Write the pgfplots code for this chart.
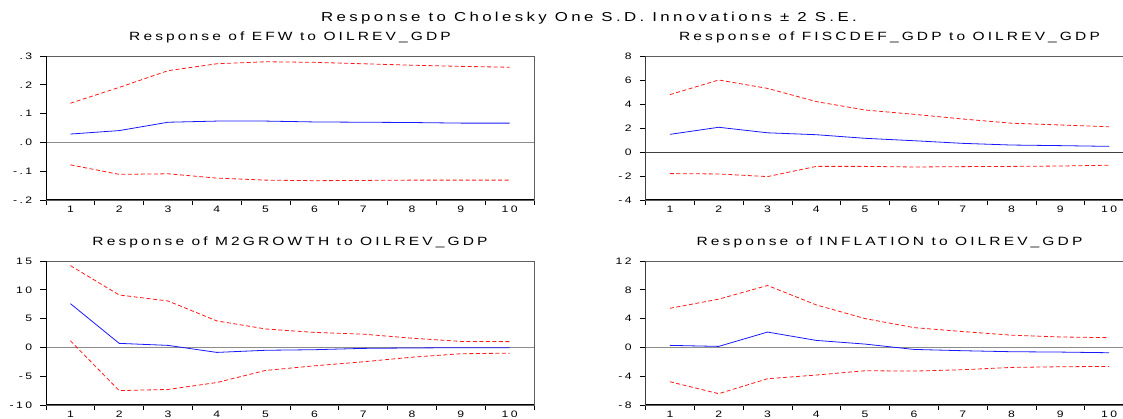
\documentclass[border=0pt]{standalone}
\usepackage{fontspec}
\setmainfont{Liberation Sans}
\newfontfamily\ev[LetterSpace=20]{Liberation Sans}
\usepackage{pgfplots}
\usepackage{pgfplotstable}
\pgfplotsset{compat=1.18}
\definecolor{irfred}{RGB}{255,25,25}
\definecolor{irfblue}{RGB}{25,25,255}
\definecolor{framegray}{RGB}{95,95,95}
\definecolor{zerogray}{RGB}{140,140,140}

% step  lower  resp  upper
\pgfplotstableread{
s lo mid hi
1 -0.078 0.029 0.136
2 -0.111 0.041 0.191
3 -0.109 0.070 0.249
4 -0.124 0.074 0.273
5 -0.131 0.074 0.280
6 -0.133 0.071 0.278
7 -0.132 0.070 0.273
8 -0.131 0.069 0.268
9 -0.131 0.067 0.264
10 -0.131 0.067 0.261
}\efw
\pgfplotstableread{
s lo mid hi
1 -1.80 1.47 4.78
2 -1.83 2.06 6.00
3 -2.05 1.60 5.30
4 -1.20 1.44 4.20
5 -1.20 1.14 3.50
6 -1.25 0.94 3.14
7 -1.22 0.72 2.75
8 -1.20 0.58 2.40
9 -1.17 0.53 2.25
10 -1.10 0.47 2.10
}\fisc
\pgfplotstableread{
s lo mid hi
1 1.15 7.60 14.20
2 -7.50 0.70 9.10
3 -7.30 0.35 8.06
4 -6.10 -0.87 4.60
5 -4.00 -0.50 3.20
6 -3.20 -0.40 2.60
7 -2.50 -0.17 2.30
8 -1.70 -0.10 1.60
9 -1.10 -0.05 1.04
10 -1.00 -0.05 1.00
}\mtwo
\pgfplotstableread{
s lo mid hi
1 -4.77 0.28 5.43
2 -6.43 0.14 6.70
3 -4.35 2.13 8.60
4 -3.84 0.97 5.90
5 -3.24 0.46 4.00
6 -3.29 -0.28 2.75
7 -3.10 -0.46 2.20
8 -2.78 -0.60 1.70
9 -2.69 -0.65 1.45
10 -2.64 -0.74 1.35
}\infl

\pgfplotsset{
  irf/.style={
    scale only axis, width=488bp, height=144bp,
    anchor=south west,
    xmin=0.5, xmax=10.5,
    xtick={1,2,3,4,5,6,7,8,9,10},
    minor xtick={0.5,1.5,2.5,3.5,4.5,5.5,6.5,7.5,8.5,9.5,10.5},
    every major x tick/.style={draw=none},
    tick align=outside,
    major tick length=6bp, minor tick length=5bp,
    xtick pos=bottom, ytick pos=left,
    tick style={black, line width=0.7bp},
    axis line style={framegray, line width=0.9bp},
    /pgf/number format/assume math mode=true,
    ticklabel style={font=\ev\fontsize{9.4}{10}\selectfont, xscale=1.3},
    xticklabel style={yshift=3.5bp},
    yticklabel style={xshift=-2.5bp},
    title style={font=\ev\fontsize{12}{13}\selectfont, xscale=1.3, at={(0.5,1)}, anchor=base, yshift=10bp},
    clip=true,
  },
  hiline/.style={irfred, line width=0.8bp, dash pattern=on 4bp off 2.5bp},
  midline/.style={irfblue, line width=0.8bp},
}

\begin{document}
\begin{tikzpicture}
\useasboundingbox (0,0) rectangle (1123bp,419bp);
\clip (0,0) rectangle (1123bp,419bp);

\node[font=\ev\fontsize{13}{14}\selectfont, xscale=1.3, anchor=base] at (589bp,397bp) {Response to Cholesky One S.D. Innovations ± 2 S.E.};

% Top-left
\begin{axis}[irf, at={(46bp,219bp)},
  title={Response of EFW to OILREV\_GDP},
  ymin=-0.2, ymax=0.3, ytick={-0.2,-0.1,0,0.1,0.2,0.3},
  yticklabels={-.2,-.1,.0,.1,.2,.3}]
  \draw[zerogray, line width=0.9bp] (axis cs:0.5,0) -- (axis cs:10.5,0);
  \addplot[hiline] table[x=s,y=hi] {\efw};
  \addplot[midline] table[x=s,y=mid] {\efw};
  \addplot[hiline] table[x=s,y=lo] {\efw};
  \draw[black, line width=1.1bp] (rel axis cs:0,1) -- (rel axis cs:0,0) -- (rel axis cs:1,0);
\end{axis}

% Top-right
\begin{axis}[irf, at={(645.5bp,219bp)},
  title={Response of FISCDEF\_GDP to OILREV\_GDP},
  ymin=-4, ymax=8, ytick={-4,-2,0,2,4,6,8},
  yticklabels={-4,-2,0,2,4,6,8}]
  \draw[black!75, line width=0.9bp] (axis cs:0.5,0) -- (axis cs:10.5,0);
  \addplot[hiline] table[x=s,y=hi] {\fisc};
  \addplot[midline] table[x=s,y=mid] {\fisc};
  \addplot[hiline] table[x=s,y=lo] {\fisc};
  \draw[black, line width=1.1bp] (rel axis cs:0,1) -- (rel axis cs:0,0) -- (rel axis cs:1,0);
\end{axis}

% Bottom-left
\begin{axis}[irf, at={(46bp,14bp)},
  title={Response of M2GROWTH to OILREV\_GDP},
  ymin=-10, ymax=15, ytick={-10,-5,0,5,10,15},
  yticklabels={-10,-5,0,5,10,15}]
  \draw[zerogray, line width=0.9bp] (axis cs:0.5,0) -- (axis cs:10.5,0);
  \addplot[hiline] table[x=s,y=hi] {\mtwo};
  \addplot[midline] table[x=s,y=mid] {\mtwo};
  \addplot[hiline] table[x=s,y=lo] {\mtwo};
  \draw[black, line width=1.1bp] (rel axis cs:0,1) -- (rel axis cs:0,0) -- (rel axis cs:1,0);
\end{axis}

% Bottom-right
\begin{axis}[irf, at={(645.5bp,14bp)},
  title={Response of INFLATION to OILREV\_GDP},
  ymin=-8, ymax=12, ytick={-8,-4,0,4,8,12},
  yticklabels={-8,-4,0,4,8,12}]
  \draw[zerogray, line width=0.9bp] (axis cs:0.5,0) -- (axis cs:10.5,0);
  \addplot[hiline] table[x=s,y=hi] {\infl};
  \addplot[midline] table[x=s,y=mid] {\infl};
  \addplot[hiline] table[x=s,y=lo] {\infl};
  \draw[black, line width=1.1bp] (rel axis cs:0,1) -- (rel axis cs:0,0) -- (rel axis cs:1,0);
\end{axis}
\end{tikzpicture}
\end{document}
